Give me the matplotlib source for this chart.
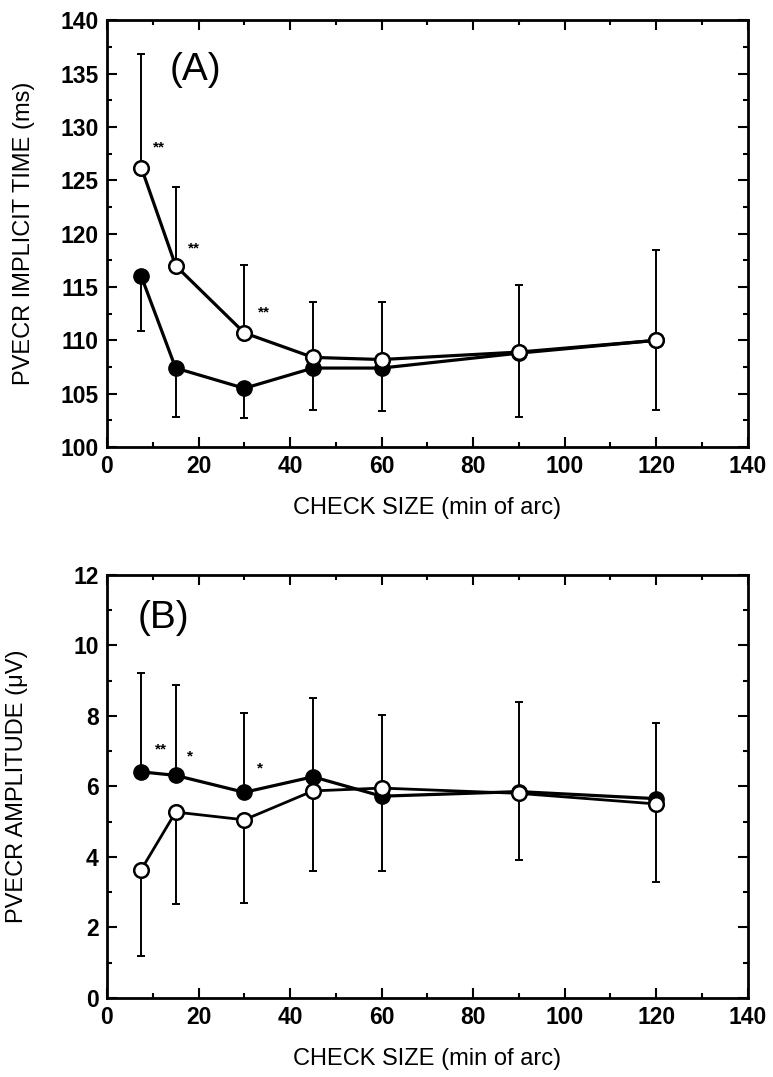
import numpy as np
import matplotlib
matplotlib.use("Agg")
import matplotlib.pyplot as plt
from matplotlib.ticker import MultipleLocator

plt.rcParams['font.family'] = ['Liberation Sans', 'DejaVu Sans']

check_size = [7.5, 15, 30, 45, 60, 90, 120]

# (A) implicit time (ms)
a_open = [126.2, 117.0, 110.7, 108.4, 108.2, 108.9, 110.0]
a_open_up = [136.9, 124.4, 117.1, 113.6, 113.6, 115.2, 118.5]
a_filled = [116.0, 107.4, 105.5, 107.4, 107.4, 108.8, 110.0]
a_filled_low = [110.9, 102.8, 102.7, 103.5, 103.4, 102.8, 103.5]
a_stars = ['**', '**', '**']
a_star_x = [11.4, 19.1, 34.2]
a_star_y = [128.1, 118.6, 112.6]

# (B) amplitude (uV)
b_filled = [6.41, 6.31, 5.83, 6.27, 5.72, 5.85, 5.65]
b_filled_up = [9.21, 8.86, 8.07, 8.5, 8.02, 8.38, 7.8]
b_open = [3.64, 5.27, 5.05, 5.87, 5.95, 5.8, 5.5]
b_open_low = [1.2, 2.65, 2.68, 3.61, 3.61, 3.92, 3.3]
b_stars = ['**', '*', '*']
b_star_x = [11.8, 18.2, 33.5]
b_star_y = [7.04, 6.84, 6.5]


def style_axes(ax):
    for s in ax.spines.values():
        s.set_linewidth(2.0)
    ax.tick_params(which='both', direction='in', top=True, right=True,
                   width=1.5, labelsize=16.5, pad=6)
    ax.tick_params(which='major', length=7)
    ax.tick_params(which='minor', length=3.5)
    ax.set_xlim(0, 140)
    ax.xaxis.set_major_locator(MultipleLocator(20))
    ax.xaxis.set_minor_locator(MultipleLocator(10))
    for lab in ax.get_xticklabels() + ax.get_yticklabels():
        lab.set_fontweight('bold')
    ax.set_xlabel('CHECK SIZE (min of arc)', fontsize=17)
    ax.xaxis.set_label_coords(0.5, -0.118)


def one_sided(ax, x, y, ends):
    y = np.array(y)
    ends = np.array(ends)
    lo = np.clip(y - ends, 0, None)
    hi = np.clip(ends - y, 0, None)
    ax.errorbar(x, y, yerr=[lo, hi], fmt='none', ecolor='black',
                elinewidth=1.4, capsize=3.2, capthick=1.4, zorder=2)


fig = plt.figure(figsize=(7.73, 10.77), dpi=100)
axA = fig.add_axes([0.1384, 0.585, 0.829, 0.396])
axB = fig.add_axes([0.1384, 0.0734, 0.829, 0.393])

# panel A
one_sided(axA, check_size, a_open, a_open_up)
one_sided(axA, check_size, a_filled, a_filled_low)
axA.plot(check_size, a_filled, '-o', color='black', lw=2.3, ms=11,
         mfc='black', mec='black', zorder=3)
axA.plot(check_size, a_open, '-o', color='black', lw=2.3, ms=10.5,
         mfc='white', mec='black', mew=1.8, zorder=4)
for s, x, y in zip(a_stars, a_star_x, a_star_y):
    axA.text(x, y, s, fontsize=11, fontweight='bold', ha='center', va='center')
axA.text(0.098, 0.885, '(A)', transform=axA.transAxes, fontsize=28, va='center')
axA.set_ylim(100, 140)
axA.yaxis.set_major_locator(MultipleLocator(5))
axA.yaxis.set_minor_locator(MultipleLocator(2.5))
axA.set_ylabel('PVECR IMPLICIT TIME (ms)', fontsize=17)
axA.yaxis.set_label_coords(-0.112, 0.5)
style_axes(axA)

# panel B
one_sided(axB, check_size, b_filled, b_filled_up)
one_sided(axB, check_size, b_open, b_open_low)
axB.plot(check_size, b_filled, '-o', color='black', lw=2.3, ms=11,
         mfc='black', mec='black', zorder=3)
axB.plot(check_size, b_open, '-o', color='black', lw=2.0, ms=10.5,
         mfc='white', mec='black', mew=1.8, zorder=4)
for s, x, y in zip(b_stars, b_star_x, b_star_y):
    axB.text(x, y, s, fontsize=11, fontweight='bold', ha='center', va='center')
axB.text(0.048, 0.898, '(B)', transform=axB.transAxes, fontsize=28, va='center')
axB.set_ylim(0, 12)
axB.yaxis.set_major_locator(MultipleLocator(2))
axB.yaxis.set_minor_locator(MultipleLocator(1))
axB.set_ylabel('PVECR AMPLITUDE (\u03bcV)', fontsize=17)
axB.yaxis.set_label_coords(-0.123, 0.5)
style_axes(axB)

fig.savefig('out.png', dpi=100)
